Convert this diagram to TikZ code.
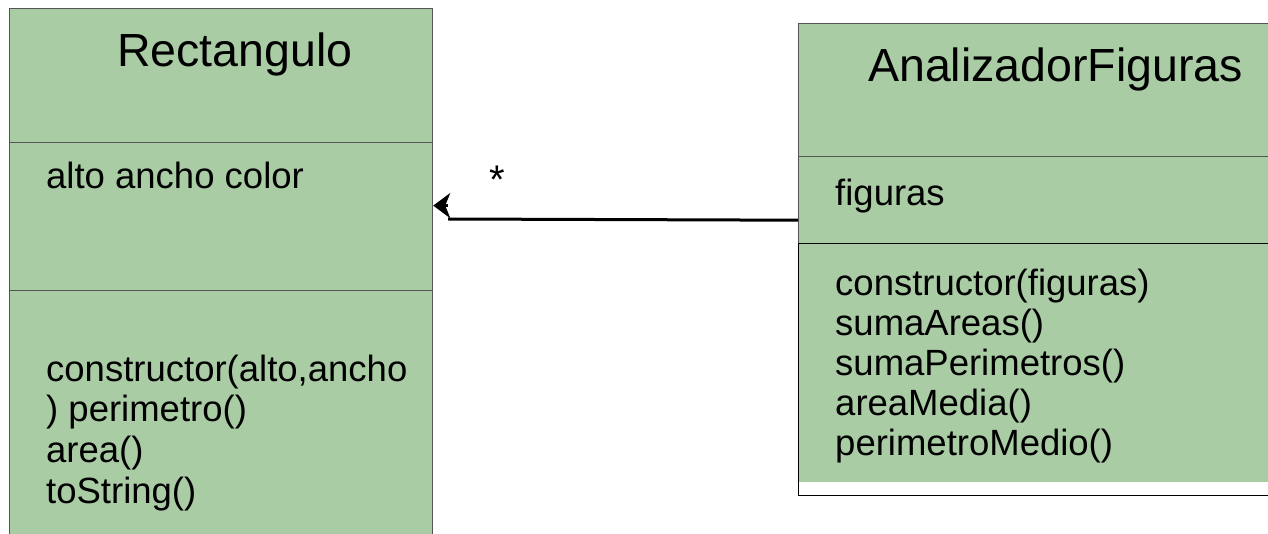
\documentclass[tikz,border=0pt]{standalone}
\usepackage{fontspec}
\setmainfont{Liberation Sans}
\usetikzlibrary{arrows.meta}
\definecolor{umlgreen}{RGB}{169,204,164}
\definecolor{umlline}{RGB}{85,85,85}

\begin{document}
\begin{tikzpicture}[x=1pt, y=-1pt,
        compart/.style={draw=umlline, line width=1.2pt, fill=umlgreen, inner sep=0pt, anchor=north west},
        title/.style={font=\fontsize{46.5}{50}\selectfont, anchor=base west, inner sep=0pt},
        member/.style={font=\fontsize{36.5}{40}\selectfont, anchor=base west, inner sep=0pt},
        methods/.style={font=\fontsize{36.5}{40}\selectfont, anchor=north west, inner sep=0pt, align=left},
        assoc/.style={line width=3pt}]
        \useasboundingbox (0,0) rectangle (1268,534);

        % Rectangulo
        \node[compart, minimum width=423pt, minimum height=134pt] (rectTitle) at (9,8) {};
        \node[compart, minimum width=423pt, minimum height=148pt] (rectAttr) at (9,142) {};
        \node[compart, minimum width=423pt, minimum height=260pt] (rectOps) at (9,290) {};
        \node[title] (rectName) at (117,67) {Rectangulo};
        \node[member] (rectFields) at (46,189) {alto ancho color};
        \node[methods, font=\fontsize{36.5}{40.7}\selectfont] (rectMethods) at (46,354.5) {constructor(alto,ancho\\) perimetro()\\area()\\toString()};

        % AnalizadorFiguras
        \node[compart, minimum width=480pt, minimum height=133pt] (figTitle) at (798,23) {};
        \node[compart, minimum width=480pt, minimum height=87pt] (figAttr) at (798,156) {};
        \node[compart, draw=black, fill=white, minimum width=480pt, minimum height=252pt] (figOps) at (798,243) {};
        \fill[umlgreen] (798.6,243.6) rectangle (1278,482);
        \node[title] (figName) at (868,82) {AnalizadorFiguras};
        \node[member] (figFields) at (835,206) {figuras};
        \node[methods] (figMethods) at (835,268.5) {constructor(figuras)\\sumaAreas()\\sumaPerimetros()\\areaMedia()\\perimetroMedio()};

        % association
        \coordinate (bend) at (448,219);
        \coordinate (tip) at ([yshift=11pt]rectAttr.east);
        \draw[assoc] ([yshift=24pt]figAttr.south west) -- (bend);
        \draw[assoc, -{Stealth[length=17pt, width=25pt, inset=5pt]}] (bend |- tip) -- (tip);
        \node[member, anchor=base, font=\fontsize{40}{44}\selectfont] (mult) at (497,194) {*};
    \end{tikzpicture}
\end{document}
